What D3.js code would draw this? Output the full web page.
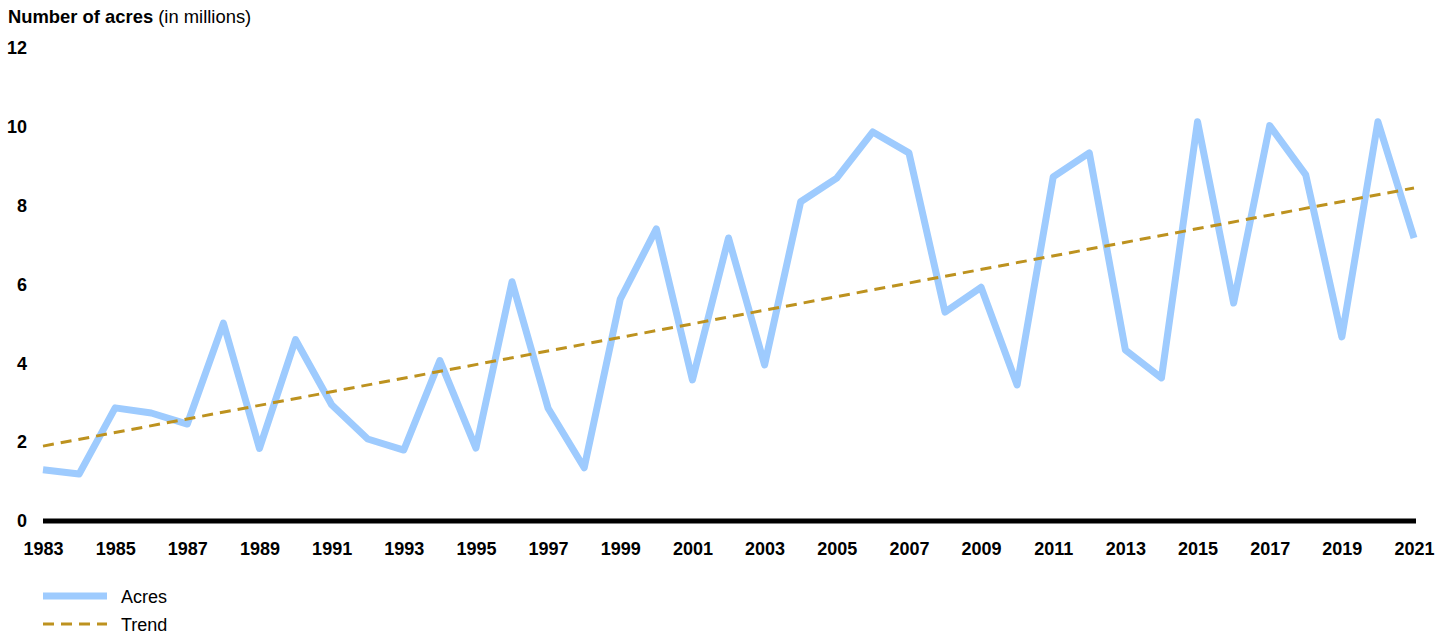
<!DOCTYPE html>
<html>
<head>
<meta charset="utf-8">
<script src="https://cdn.jsdelivr.net/npm/d3@7"></script>
<style>
  body { margin: 0; background: #fff; font-family: "Liberation Sans", Arial, sans-serif; }
</style>
</head>
<body>
<div id="chart"></div>
<script>
let width = 1449;
let height = 635;
let margin = ({top: 48, right: 35, bottom: 114, left: 43});

// Years and acres burned (millions)
let years = d3.range(1983, 2022);
let acres = [1.30, 1.19, 2.87, 2.74, 2.46, 5.02, 1.84, 4.60, 2.95, 2.08,
             1.80, 4.07, 1.85, 6.07, 2.86, 1.35, 5.63, 7.41, 3.58, 7.18,
             3.96, 8.10, 8.70, 9.87, 9.34, 5.30, 5.93, 3.45, 8.73, 9.34,
             4.34, 3.63, 10.13, 5.53, 10.03, 8.78, 4.67, 10.13, 7.18];

// Trend line end points
let trendYears = [1983, 2021];
let trendValues = [1.90, 8.45];

let yTicks = [0, 2, 4, 6, 8, 10, 12];
let xTicks = d3.range(1983, 2022, 2);

let colors = {acres: "#9ecbfe", trend: "#bd921f"};

let svg = d3.select("#chart")
    .append("svg")
    .attr("width", width)
    .attr("height", height);

let xScale = d3.scaleLinear()
    .domain([1983, 2021])
    .range([margin.left, width - margin.right]);

let yScale = d3.scaleLinear()
    .domain([0, 12])
    .range([height - margin.bottom, margin.top]);

// Title
let title = svg.append("text")
    .attr("x", 8)
    .attr("y", 23)
    .style("font-size", "18.4px")
    .style("fill", "#000");
title.append("tspan").style("font-weight", "bold").text("Number of acres");
title.append("tspan").text(" (in millions)");

// Y axis labels
let yAxis = d3.axisLeft(yScale)
    .tickValues(yTicks)
    .tickSize(0)
    .tickPadding(0)
    .tickFormat(d3.format("d"));

svg.append("g")
    .attr("class", "y axis")
    .attr("transform", "translate(27,0)")
    .call(yAxis)
    .call(g => g.select(".domain").remove())
    .selectAll("text")
    .style("font-family", "Liberation Sans, Arial, sans-serif")
    .style("font-size", "18px")
    .style("font-weight", "bold")
    .style("fill", "#000");

// X axis labels
let xAxis = d3.axisBottom(xScale)
    .tickValues(xTicks)
    .tickSize(0)
    .tickPadding(0)
    .tickFormat(d3.format("d"));

svg.append("g")
    .attr("class", "x axis")
    .attr("transform", "translate(0," + (height - margin.bottom + 21) + ")")
    .call(xAxis)
    .call(g => g.select(".domain").remove())
    .selectAll("text")
    .style("font-family", "Liberation Sans, Arial, sans-serif")
    .style("font-size", "18px")
    .style("font-weight", "bold")
    .style("fill", "#000");

// Baseline
svg.append("line")
    .attr("x1", xScale(1983))
    .attr("x2", xScale(2021) + 2)
    .attr("y1", yScale(0))
    .attr("y2", yScale(0))
    .attr("stroke", "#000")
    .attr("stroke-width", 5);

// Acres line
let line = d3.line()
    .x((d, i) => xScale(years[i]))
    .y(d => yScale(d));

svg.append("path")
    .datum(acres)
    .attr("d", line)
    .attr("fill", "none")
    .attr("stroke", colors.acres)
    .attr("stroke-width", 7)
    .attr("stroke-linejoin", "round");

// Trend line
svg.append("line")
    .attr("x1", xScale(trendYears[0]))
    .attr("y1", yScale(trendValues[0]))
    .attr("x2", xScale(trendYears[1]))
    .attr("y2", yScale(trendValues[1]))
    .attr("stroke", colors.trend)
    .attr("stroke-width", 3)
    .attr("stroke-dasharray", "11,7");

// Legend
let legend = [
    {label: "Acres", color: colors.acres, width: 7, dash: null, y: 596},
    {label: "Trend", color: colors.trend, width: 3, dash: "11,7", y: 624}
];

let lg = svg.selectAll(".legend")
    .data(legend)
    .enter()
    .append("g")
    .attr("class", "legend");

lg.append("line")
    .attr("x1", 43)
    .attr("x2", 107)
    .attr("y1", d => d.y)
    .attr("y2", d => d.y)
    .attr("stroke", d => d.color)
    .attr("stroke-width", d => d.width)
    .attr("stroke-dasharray", d => d.dash);

lg.append("text")
    .attr("x", 121)
    .attr("y", d => d.y + 7)
    .style("font-size", "18px")
    .style("fill", "#000")
    .text(d => d.label);
</script>
</body>
</html>
